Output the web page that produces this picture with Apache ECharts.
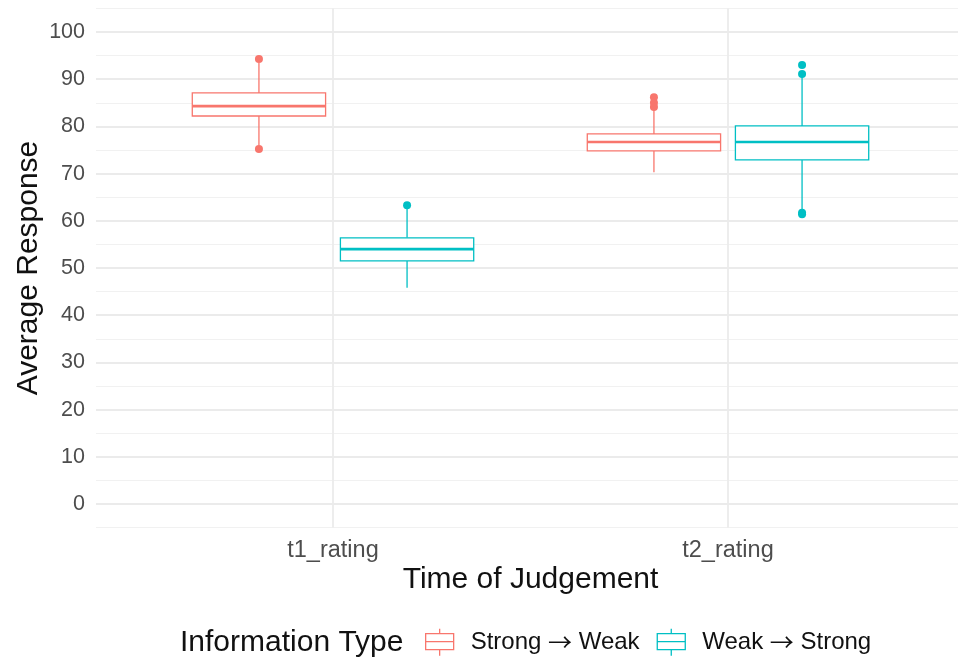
<!DOCTYPE html>
<html>
<head>
<meta charset="utf-8">
<script src="https://cdn.jsdelivr.net/npm/echarts@6/dist/echarts.min.js"></script>
<style>
  html, body { margin: 0; padding: 0; background: #ffffff; }
  #chart { width: 958px; height: 662px; }
</style>
</head>
<body>
<div id="chart"></div>
<script>
// Categories on the x axis and the two information-type groups
const categories = ['t1_rating', 't2_rating'];
const groupNames = ['Strong → Weak', 'Weak → Strong'];
const groupColors = ['#F8766D', '#00BFC4'];

// Box statistics per category: [lower whisker, Q1, median, Q3, upper whisker]
const strongWeakStats = [
  [76.0, 82.2, 84.3, 87.1, 93.5],
  [70.3, 74.8, 76.7, 78.4, 83.5]
];
const weakStrongStats = [
  [45.8, 51.5, 54.0, 56.4, 62.8],
  [62.3, 72.9, 76.7, 80.1, 90.5]
];

// Outlying points per category
const strongWeakOutliers = [
  [94.3, 75.2],
  [86.2, 85.0, 84.1]
];
const weakStrongOutliers = [
  [63.3],
  [93.0, 91.1, 61.7, 61.4]
];

// Y tick labels
const yTicks = [0, 10, 20, 30, 40, 50, 60, 70, 80, 90, 100];

const FONT = 'Liberation Sans, Arial, sans-serif';
const DODGE = 0.1875;     // half the dodge width (0.75 / 4)
const BOX_W = 0.3375;     // box width in category units

const groupStats = [strongWeakStats, weakStrongStats];
const groupOutliers = [strongWeakOutliers, weakStrongOutliers];

function boxData(g) {
  const off = g === 0 ? -DODGE : DODGE;
  return groupStats[g].map((s, i) => [i + 1 + off].concat(s));
}
function outlierData(g) {
  const off = g === 0 ? -DODGE : DODGE;
  const out = [];
  groupOutliers[g].forEach((vals, i) => vals.forEach(v => out.push([i + 1 + off, v])));
  return out;
}

function makeRenderItem(color) {
  return function (params, api) {
    const x = api.value(0);
    const lo = api.coord([x, api.value(1)]);
    const q1 = api.coord([x, api.value(2)]);
    const md = api.coord([x, api.value(3)]);
    const q3 = api.coord([x, api.value(4)]);
    const hi = api.coord([x, api.value(5)]);
    const half = api.size([BOX_W, 0])[0] / 2;
    const line = { stroke: color, lineWidth: 1.3, fill: null };
    return {
      type: 'group',
      children: [
        { type: 'line', shape: { x1: hi[0], y1: hi[1], x2: q3[0], y2: q3[1] }, style: line },
        { type: 'line', shape: { x1: q1[0], y1: q1[1], x2: lo[0], y2: lo[1] }, style: line },
        { type: 'rect', shape: { x: q3[0] - half, y: q3[1], width: half * 2, height: q1[1] - q3[1] },
          style: { stroke: color, lineWidth: 1.3, fill: '#ffffff' } },
        { type: 'line', shape: { x1: md[0] - half, y1: md[1], x2: md[0] + half, y2: md[1] },
          style: { stroke: color, lineWidth: 2.6 } }
      ]
    };
  };
}

// Layout: one category step is 395 px; categories sit at x = 333 and 728
const STEP = 395;
const PLOT_LEFT = 96, PLOT_RIGHT = 958;
const CAT_LEFT = 333;
const X_MIN = 1 - (CAT_LEFT - PLOT_LEFT) / STEP;
const X_MAX = 2 + (PLOT_RIGHT - CAT_LEFT - STEP) / STEP;
// y from -5 to 105 spans pixel rows 8.4 .. 527.6, 0..100 spans 32 .. 504
const TOP_FULL = 8.4, H_FULL = 519.2;
const TOP_MAJOR = 32, H_MAJOR = 472;

// Small boxplot glyph used as the legend key
const legendIcon = 'path://M14,0 L14,5 M0,5 L28,5 L28,21 L0,21 Z M0,13 L28,13 M14,21 L14,27';

const series = [];
groupNames.forEach((name, g) => {
  series.push({
    name: name,
    type: 'custom',
    xAxisIndex: 0,
    yAxisIndex: 0,
    renderItem: makeRenderItem(groupColors[g]),
    itemStyle: { color: groupColors[g] },
    encode: { x: 0, y: [1, 2, 3, 4, 5] },
    data: boxData(g),
    z: 3
  });
  series.push({
    name: name,
    type: 'scatter',
    xAxisIndex: 0,
    yAxisIndex: 0,
    symbolSize: 8,
    itemStyle: { color: groupColors[g], opacity: 1 },
    data: outlierData(g),
    z: 4
  });
});

const option = {
  backgroundColor: '#ffffff',
  animation: false,
  grid: [
    { left: PLOT_LEFT, right: 958 - PLOT_RIGHT, top: TOP_FULL, height: H_FULL },
    { left: PLOT_LEFT, right: 958 - PLOT_RIGHT, top: TOP_MAJOR, height: H_MAJOR },
    { left: CAT_LEFT, width: STEP, top: TOP_FULL, height: H_FULL }
  ],
  xAxis: [
    { gridIndex: 0, type: 'value', min: X_MIN, max: X_MAX, show: false },
    { gridIndex: 1, type: 'value', min: 0, max: 1, show: false },
    {
      gridIndex: 2, type: 'category', data: categories, boundaryGap: false,
      axisLine: { show: false }, axisTick: { show: false },
      axisLabel: { color: '#4D4D4D', fontSize: 23.5, fontFamily: FONT, margin: 11 },
      splitLine: { show: true, lineStyle: { color: '#EBEBEB', width: 1.8 } },
      name: 'Time of Judgement', nameLocation: 'middle', nameGap: 37, nameMoveOverlap: false,
      nameTextStyle: { color: '#111111', fontSize: 30, fontFamily: FONT }
    }
  ],
  yAxis: [
    {
      gridIndex: 0, type: 'value', min: -5, max: 105, interval: 5,
      axisLine: { show: false }, axisTick: { show: false }, axisLabel: { show: false },
      splitLine: { show: true, lineStyle: { color: '#F1F1F1', width: 1 } }
    },
    {
      gridIndex: 1, type: 'value', min: yTicks[0], max: yTicks[yTicks.length - 1], interval: 10,
      axisLine: { show: false }, axisTick: { show: false },
      axisLabel: { color: '#4D4D4D', fontSize: 21.5, fontFamily: FONT, margin: 11 },
      splitLine: { show: true, lineStyle: { color: '#EBEBEB', width: 1.8 } },
      name: 'Average Response', nameLocation: 'middle', nameGap: 52, nameRotate: 90,
      nameMoveOverlap: false,
      nameTextStyle: { color: '#111111', fontSize: 30, fontFamily: FONT }
    },
    { gridIndex: 2, type: 'value', min: 0, max: 1, show: false }
  ],
  title: {
    text: 'Information Type',
    left: 180, top: 628, padding: 0,
    textStyle: { color: '#111111', fontSize: 30, fontWeight: 'normal', fontFamily: FONT }
  },
  legend: {
    left: 425, top: 628, padding: 0,
    itemWidth: 28, itemHeight: 27, itemGap: 17,
    selectedMode: false,
    formatter: name => {
      const parts = name.split('→');
      return '{g|}' + parts[0] + '{a|→}' + parts[1];
    },
    textStyle: {
      color: '#111111', fontSize: 24, fontFamily: FONT,
      rich: {
        g: { width: 12 },
        a: { fontFamily: 'Noto Sans CJK SC', fontSize: 24, color: '#111111' }
      }
    },
    data: groupNames.map((name, g) => ({
      name: name,
      icon: legendIcon,
      itemStyle: { color: 'transparent', borderColor: groupColors[g], borderWidth: 1.3 }
    }))
  },
  series: series
};

const chart = echarts.init(document.getElementById('chart'), null, { renderer: 'canvas' });
chart.setOption(option);
</script>
</body>
</html>
